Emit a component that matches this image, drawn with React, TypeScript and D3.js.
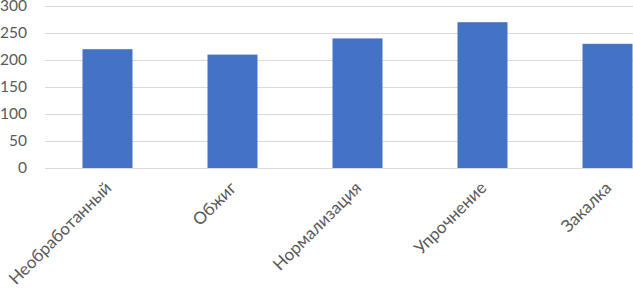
import React from "react";
import * as d3 from "d3";

const categories = ["Необработанный", "Обжиг", "Нормализация", "Упрочнение", "Закалка"];
const values = [220, 210, 240, 270, 230];
const yTicks = [0, 50, 100, 150, 200, 250, 300];

const width = 633;
const height = 290;
const font = "Lato, 'Open Sans', sans-serif";

function App() {
  // plot runs past the right edge, the reference is cropped there
  const x = d3.scaleBand().domain(categories).range([45, 670]).paddingInner(0.6).paddingOuter(0.3);
  const y = d3.scaleLinear().domain([0, 300]).range([168, 6]);

  return (
    <svg
      width={width}
      height={height}
      style={{ position: "absolute", left: 0, top: 0, background: "#fff" }}
    >
      {yTicks.map(t => (
        <g key={t}>
          <line x1={45} x2={width} y1={y(t) + 0.5} y2={y(t) + 0.5} stroke="#d9d9d9" strokeWidth={1} />
          <text
            x={27}
            y={y(t)}
            dy="0.35em"
            textAnchor="end"
            fontFamily={font}
            fontSize={15.5}
            fill="#595959"
          >
            {t}
          </text>
        </g>
      ))}
      {categories.map((c, i) => (
        <rect
          key={c}
          x={x(c)}
          y={y(values[i])}
          width={x.bandwidth()}
          height={y(0) - y(values[i])}
          fill="#4472c4"
        />
      ))}
      {categories.map(c => {
        const cx = (x(c) as number) + x.bandwidth() / 2;
        return (
          <text
            key={c}
            transform={`translate(${cx + 5},${189}) rotate(-45)`}
            textAnchor="end"
            fontFamily={font}
            fontSize={17}
            fill="#595959"
          >
            {c}
          </text>
        );
      })}
    </svg>
  );
}

export default App;
